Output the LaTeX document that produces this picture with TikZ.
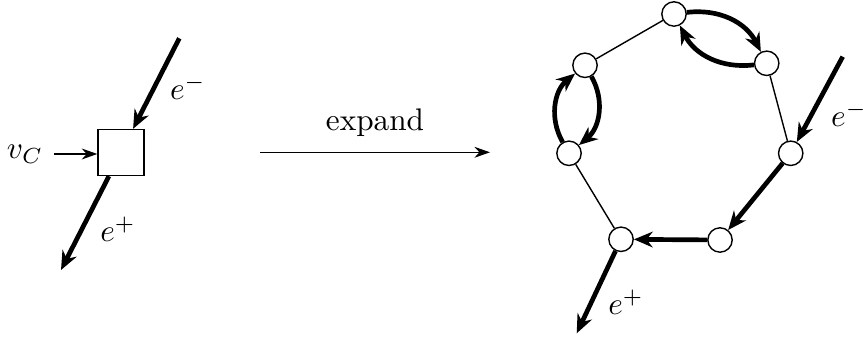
\documentclass[tikz,border=0pt]{standalone}
\usepackage{amssymb,amsmath}
\usetikzlibrary{arrows.meta}

\tikzset{
	vtx/.style={circle, draw, fill=white, minimum size=7.8pt, inner sep=0pt, line width=0.45pt},
	blk/.style={draw, fill=white, minimum size=14.7pt, inner sep=0pt, line width=0.45pt},
	heavy/.style={line width=1.5pt, -{Stealth[length=6pt,width=5pt]}},
	light/.style={line width=0.45pt, -{Stealth[length=5pt,width=3.5pt]}},
	rim/.style={line width=0.45pt},
}

\begin{document}
\begin{tikzpicture}[x=0.32pt, y=-0.32pt]
	\useasboundingbox (0,0) rectangle (863,342);

	% single vertex
	\node[blk] (box) at (121,152.5) {};
	\node (vc) at (25,154) {$v_C$};
	\coordinate (minL) at (179.3,38.3);
	\coordinate (plusL) at (61,270);
	\draw[light] (vc.east) -- (vc.east -| box.west);
	\draw[heavy] (minL) -- (box);
	\draw[heavy] (box) -- (plusL);
	\node (eminL) at (188,87) {$e^-$};
	\node (eplusL) at (118,229) {$e^+$};

	% expand
	\coordinate (expA) at (260,152.3);
	\coordinate (expB) at (490,152.3);
	\draw[light] (expA) -- node[above=1.5pt] (exptxt) {expand} (expB);

	% cycle
	\node[vtx] (t) at (674,14) {};
	\node[vtx] (ur) at (766.7,63.3) {};
	\node[vtx] (r) at (790.7,153.3) {};
	\node[vtx] (br) at (720,240) {};
	\node[vtx] (bl) at (621,239.3) {};
	\node[vtx] (ll) at (569,153.3) {};
	\node[vtx] (lu) at (585,65.3) {};

	\draw[rim] (t) -- (lu);
	\draw[rim] (ll) -- (bl);
	\draw[rim] (ur) -- (r);
	\draw[heavy] (t) to[bend left=35] (ur);
	\draw[heavy] (ur) to[bend left=35] (t);
	\draw[heavy] (lu) to[bend left=40] (ll);
	\draw[heavy] (ll) to[bend left=40] (lu);
	\draw[heavy] (r) -- (br);
	\draw[heavy] (br) -- (bl);

	\coordinate (minR) at (842.7,56.7);
	\coordinate (plusR) at (576.7,333.3);
	\draw[heavy] (minR) -- (r);
	\draw[heavy] (bl) -- (plusR);
	\node (eminR) at (849,114) {$e^-$};
	\node (eplusR) at (626,302) {$e^+$};
\end{tikzpicture}
\end{document}
